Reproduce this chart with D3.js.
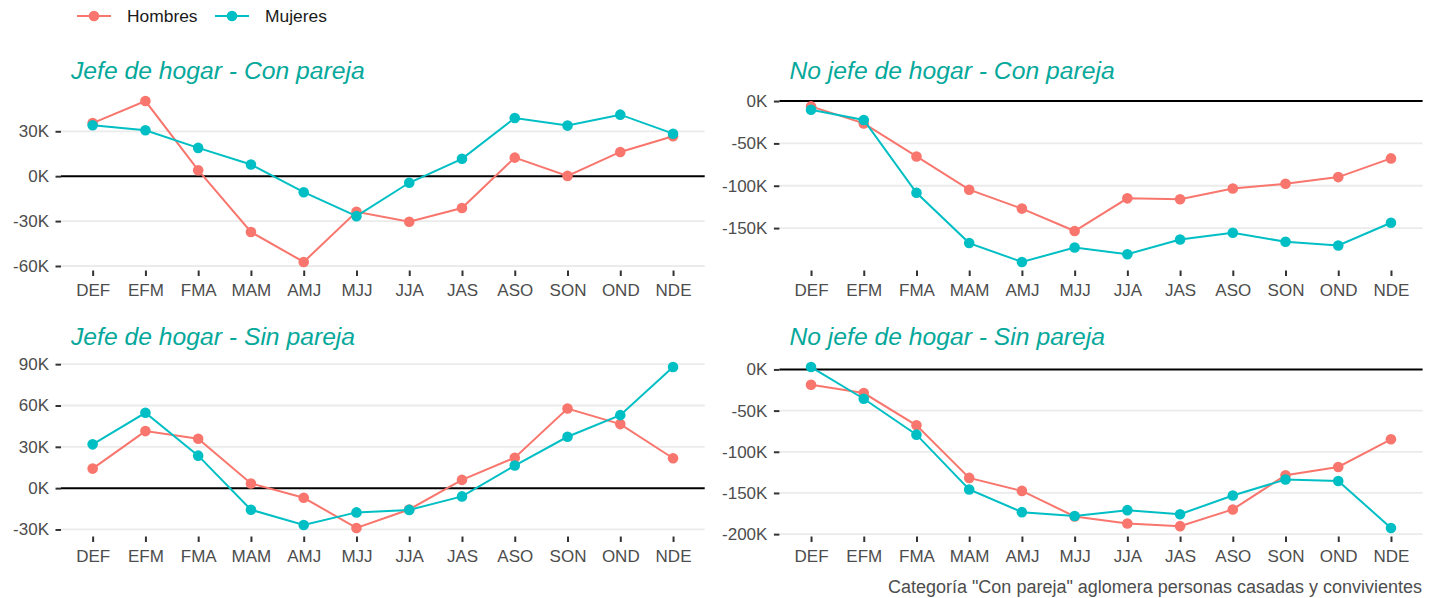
<!DOCTYPE html>
<html>
<head>
<meta charset="utf-8">
<script src="https://cdn.jsdelivr.net/npm/d3@7"></script>
<style>
  body { margin: 0; background: #fff; }
  svg { display: block; font-family: "Liberation Sans", Arial, sans-serif; }
</style>
</head>
<body>
<svg id="chart" width="1433" height="598"></svg>
<script>
// Data (thousands of persons)
//
var months = ["DEF", "EFM", "FMA", "MAM", "AMJ", "MJJ", "JJA", "JAS", "ASO", "SON", "OND", "NDE"];
var seriesNames = ["Hombres", "Mujeres"];

var jefeConHombres = [35.5, 50.2, 4, -37.3, -57.3, -23.8, -30.4, -21.3, 12.4, 0.2, 16.2, 26.7];
var jefeConMujeres = [34, 30.7, 18.9, 7.8, -10.7, -26.7, -4.4, 11.6, 38.9, 33.8, 41.1, 28.4];
var noJefeConHombres = [-6.3, -26.4, -65.4, -104.7, -127, -153.5, -114.9, -116, -103.2, -97.7, -89.8, -67.7];
var noJefeConMujeres = [-10.3, -22.4, -108.3, -167.7, -190, -173, -180.9, -163.4, -155.5, -166.2, -170.5, -143.7];
var jefeSinHombres = [14.2, 41.4, 35.9, 3.4, -7, -28.9, -15.5, 6, 22.1, 57.8, 46.5, 21.7];
var jefeSinMujeres = [31.8, 54.7, 23.6, -15.7, -26.8, -17.6, -15.8, -6, 16.4, 37.3, 53, 87.9];
var noJefeSinHombres = [-18.6, -28.7, -67.9, -131.7, -147.5, -178.5, -187, -190.3, -170, -128.5, -118.4, -84.8];
var noJefeSinMujeres = [2.9, -35.6, -79.2, -145.8, -173.3, -178, -170.9, -175.8, -153.1, -133.7, -135.4, -192.5];

var titles = ["Jefe de hogar - Con pareja", "No jefe de hogar - Con pareja",
              "Jefe de hogar - Sin pareja", "No jefe de hogar - Sin pareja"];
var yTicks1 = [-60, -30, 0, 30];
var yTicks2 = [-150, -100, -50, 0];
var yTicks3 = [-30, 0, 30, 60, 90];
var yTicks4 = [-200, -150, -100, -50, 0];
var caption = "Categoría \"Con pareja\" aglomera personas casadas y convivientes";

var colors = ["#F8766D", "#00BFC4"];

// Layout
//
var svg = d3.select("#chart");
var cols = [[61, 704.7], [779.4, 1422.6]];
var rows = [[93, 270], [359, 536]];

var panels = [
  { title: titles[0], series: [jefeConHombres, jefeConMujeres], ticks: yTicks1, col: 0, row: 0 },
  { title: titles[1], series: [noJefeConHombres, noJefeConMujeres], ticks: yTicks2, col: 1, row: 0 },
  { title: titles[2], series: [jefeSinHombres, jefeSinMujeres], ticks: yTicks3, col: 0, row: 1 },
  { title: titles[3], series: [noJefeSinHombres, noJefeSinMujeres], ticks: yTicks4, col: 1, row: 1 }
];

function drawPanel(p) {
  var xr = cols[p.col], yr = rows[p.row];
  var x = d3.scalePoint().domain(months).range(xr).padding(0.6);

  // ggplot style 5% expansion, zero line included
  var all = p.series[0].concat(p.series[1]).concat([0]);
  var lo = d3.min(all), hi = d3.max(all);
  var pad = (hi - lo) * 0.05;
  var y = d3.scaleLinear().domain([lo - pad, hi + pad]).range([yr[1], yr[0]]);

  var g = svg.append("g");

  // grid
  g.selectAll("line.grid").data(p.ticks.filter(function(t) { return t !== 0; }))
    .enter().append("line")
    .attr("x1", xr[0]).attr("x2", xr[1])
    .attr("y1", function(d) { return y(d); }).attr("y2", function(d) { return y(d); })
    .attr("stroke", "#EBEBEB").attr("stroke-width", 1.8);

  // zero line
  g.append("line")
    .attr("x1", xr[0]).attr("x2", xr[1])
    .attr("y1", y(0)).attr("y2", y(0))
    .attr("stroke", "#000").attr("stroke-width", 2);

  // axes
  var yAxis = d3.axisLeft(y).tickValues(p.ticks)
    .tickFormat(function(d) { return d + "K"; })
    .tickSize(5.5).tickPadding(6.5);
  var ya = g.append("g").attr("transform", "translate(" + xr[0] + ",0)").call(yAxis);
  var xAxis = d3.axisBottom(x).tickSize(5.5).tickPadding(8);
  var xa = g.append("g").attr("transform", "translate(0," + (yr[1] + 0.5) + ")").call(xAxis);
  [ya, xa].forEach(function(a) {
    a.select(".domain").remove();
    a.selectAll(".tick line").attr("stroke", "#333").attr("stroke-width", 2);
    a.selectAll(".tick text").attr("fill", "#4D4D4D").style("font-size", "17px");
  });

  // series
  var line = d3.line()
    .x(function(d, i) { return x(months[i]); })
    .y(function(d) { return y(d); });
  p.series.forEach(function(s, k) {
    g.append("path").datum(s)
      .attr("d", line).attr("fill", "none")
      .attr("stroke", colors[k]).attr("stroke-width", 2);
    g.selectAll("circle.s" + k).data(s).enter().append("circle")
      .attr("cx", function(d, i) { return x(months[i]); })
      .attr("cy", function(d) { return y(d); })
      .attr("r", 5.3).attr("fill", colors[k]);
  });

  // title
  g.append("text")
    .attr("x", xr[0] + 10).attr("y", yr[0] - 14.5)
    .attr("fill", "#05A89A").style("font-size", "24.7px").style("font-style", "italic")
    .text(p.title);
}

panels.forEach(drawPanel);

// legend
var legend = svg.append("g").attr("transform", "translate(77,16)");
var legendX = [0, 138];
seriesNames.forEach(function(name, k) {
  var lg = legend.append("g").attr("transform", "translate(" + legendX[k] + ",0)");
  lg.append("line").attr("x1", 0).attr("x2", 34).attr("y1", 0).attr("y2", 0)
    .attr("stroke", colors[k]).attr("stroke-width", 2);
  lg.append("circle").attr("cx", 17).attr("cy", 0).attr("r", 5.3).attr("fill", colors[k]);
  lg.append("text").attr("x", 50).attr("y", 6)
    .attr("fill", "#1A1A1A").style("font-size", "17.4px").text(name);
});

// caption
svg.append("text")
  .attr("x", 1422).attr("y", 593).attr("text-anchor", "end")
  .attr("fill", "#4D4D4D").style("font-size", "18px")
  .text(caption);
</script>
</body>
</html>
